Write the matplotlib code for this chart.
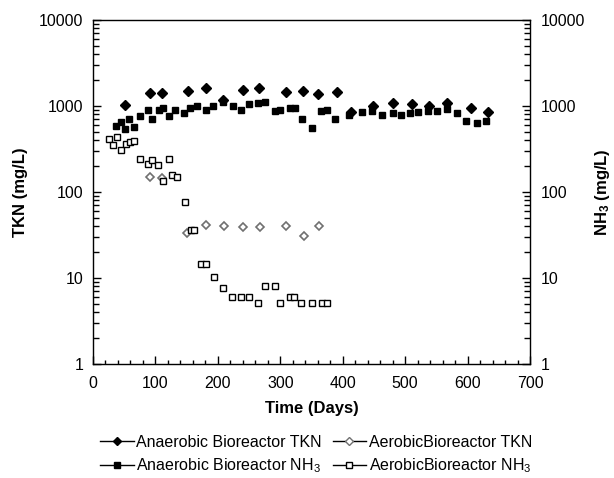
import matplotlib
matplotlib.use('Agg')
import matplotlib.pyplot as plt
from matplotlib.lines import Line2D
from matplotlib.ticker import LogLocator, MultipleLocator, FixedLocator, FixedFormatter

plt.rcParams['font.family'] = ['Liberation Sans', 'DejaVu Sans']
plt.rcParams['mathtext.default'] = 'regular'

# Anaerobic bioreactor TKN
an_tkn_dias = [51, 91, 110, 152, 181, 209, 240, 266, 309, 337, 361, 391, 414,
               449, 481, 511, 538, 567, 606, 633]
an_tkn_vals = [1020, 1420, 1420, 1500, 1620, 1170, 1540, 1620, 1450, 1500, 1380,
               1450, 850, 1000, 1075, 1050, 1000, 1075, 950, 850]

# Anaerobic bioreactor NH3
an_nh3_dias = [37, 45, 51, 58, 66, 75, 88, 95, 106, 112, 122, 131, 146, 155, 167,
               181, 192, 208, 224, 237, 250, 264, 276, 292, 300, 316, 324, 335,
               351, 365, 375, 388, 410, 431, 447, 463, 481, 494, 508, 521, 537,
               551, 567, 583, 598, 615, 630]
an_nh3_vals = [585, 652, 540, 706, 570, 765, 898, 706, 898, 948, 765, 898, 830,
               948, 1000, 898, 1000, 1113, 1000, 898, 1055, 1084, 1113, 875, 898,
               948, 948, 706, 555, 875, 898, 706, 786, 851, 875, 786, 830, 786,
               830, 851, 875, 875, 922, 830, 670, 634, 670]

# Aerobic bioreactor TKN
ae_tkn_dias = [91, 111, 151, 181, 210, 240, 268, 309, 338, 362]
ae_tkn_vals = [149, 146, 33.4, 41.3, 40.2, 39.2, 39.2, 40.2, 30.8, 40.2]

# Aerobic bioreactor NH3
ae_nh3_dias = [26, 32, 38, 45, 53, 59, 66, 75, 88, 95, 104, 122, 112, 127, 135,
               147, 157, 162, 173, 181, 194, 208, 223, 237, 250, 264, 276, 292,
               300, 316, 322, 333, 351, 367, 375]
ae_nh3_vals = [413, 352, 436, 308, 361, 381, 392, 242, 212, 236, 206, 242, 134,
               158, 149, 76.5, 36.1, 36.1, 14.5, 14.5, 10.3, 7.65, 6.0, 6.0, 6.0,
               5.1, 8.1, 8.1, 5.1, 6.0, 6.0, 5.1, 5.1, 5.1, 5.1]

fig = plt.figure(figsize=(6.14, 4.78), dpi=100)
ax = fig.add_axes([93/614, 1-364/478, 437/614, 344/478])

ax.plot(ae_nh3_dias, ae_nh3_vals, 's', ms=5, mfc='white', mec='black', mew=1.0,
        linestyle='none', zorder=3)
ax.plot(ae_tkn_dias, ae_tkn_vals, 'D', ms=4.5, mfc='white', mec='#707070', mew=1.2,
        linestyle='none', zorder=2)
ax.plot(an_nh3_dias, an_nh3_vals, 's', ms=5, color='black', linestyle='none', zorder=3)
ax.plot(an_tkn_dias, an_tkn_vals, 'D', ms=5.5, color='black', linestyle='none', zorder=4)

ax.set_yscale('log')
ax.set_ylim(1, 10000)
ax.set_xlim(0, 700)
ax.xaxis.set_major_locator(MultipleLocator(100))
ax.xaxis.set_minor_locator(MultipleLocator(20))

ticks_y = [1, 10, 100, 1000, 10000]
labels_y = ['1', '10', '100', '1000', '10000']
ax.yaxis.set_major_locator(FixedLocator(ticks_y))
ax.yaxis.set_major_formatter(FixedFormatter(labels_y))
ax.yaxis.set_minor_locator(LogLocator(base=10, subs=range(2, 10), numticks=20))

ax.tick_params(axis='both', which='both', direction='in', labelsize=11.5, width=1.0)
ax.tick_params(axis='x', which='major', length=6, pad=9)
ax.tick_params(axis='x', which='minor', length=3)
ax.tick_params(axis='y', which='major', length=6, pad=7)
ax.tick_params(axis='y', which='minor', length=4)
ax.tick_params(top=False, which='both')
for s in ax.spines.values():
    s.set_linewidth(1.0)
    s.set_color('#333333')

ax.set_xlabel('Time (Days)', fontsize=12, fontweight='bold', labelpad=7)
ax.set_ylabel('TKN (mg/L)', fontsize=12, fontweight='bold', labelpad=8)

ax2 = ax.twinx()
ax2.set_yscale('log')
ax2.set_ylim(1, 10000)
ax2.yaxis.set_major_locator(FixedLocator(ticks_y))
ax2.yaxis.set_major_formatter(FixedFormatter(labels_y))
ax2.yaxis.set_minor_locator(LogLocator(base=10, subs=range(2, 10), numticks=20))
ax2.tick_params(axis='y', which='both', direction='in', labelsize=11.5, width=1.0)
ax2.tick_params(axis='y', which='major', length=6, pad=8)
ax2.tick_params(axis='y', which='minor', length=4)
ax2.set_ylabel('NH$_3$ (mg/L)', fontsize=12, fontweight='bold')
ax2.yaxis.set_label_coords(1.145, 0.5)

handles = [
    Line2D([], [], color='black', lw=1, marker='D', ms=4, mfc='black', mec='black'),
    Line2D([], [], color='black', lw=1, marker='s', ms=5, mfc='black', mec='black'),
    Line2D([], [], color='black', lw=1, marker='D', ms=4, mfc='white', mec='#707070'),
    Line2D([], [], color='black', lw=1, marker='s', ms=4.5, mfc='white', mec='black'),
]
labels = ['Anaerobic Bioreactor TKN', 'Anaerobic Bioreactor NH$_3$',
          'AerobicBioreactor TKN', 'AerobicBioreactor NH$_3$']
fig.legend(handles, labels, loc='center', bbox_to_anchor=(316/614, 1-455/478),
           ncol=2, frameon=False, fontsize=11.5, handlelength=2.1,
           handletextpad=0.15, columnspacing=0.7, labelspacing=0.45)

fig.savefig('out.png', dpi=100)
